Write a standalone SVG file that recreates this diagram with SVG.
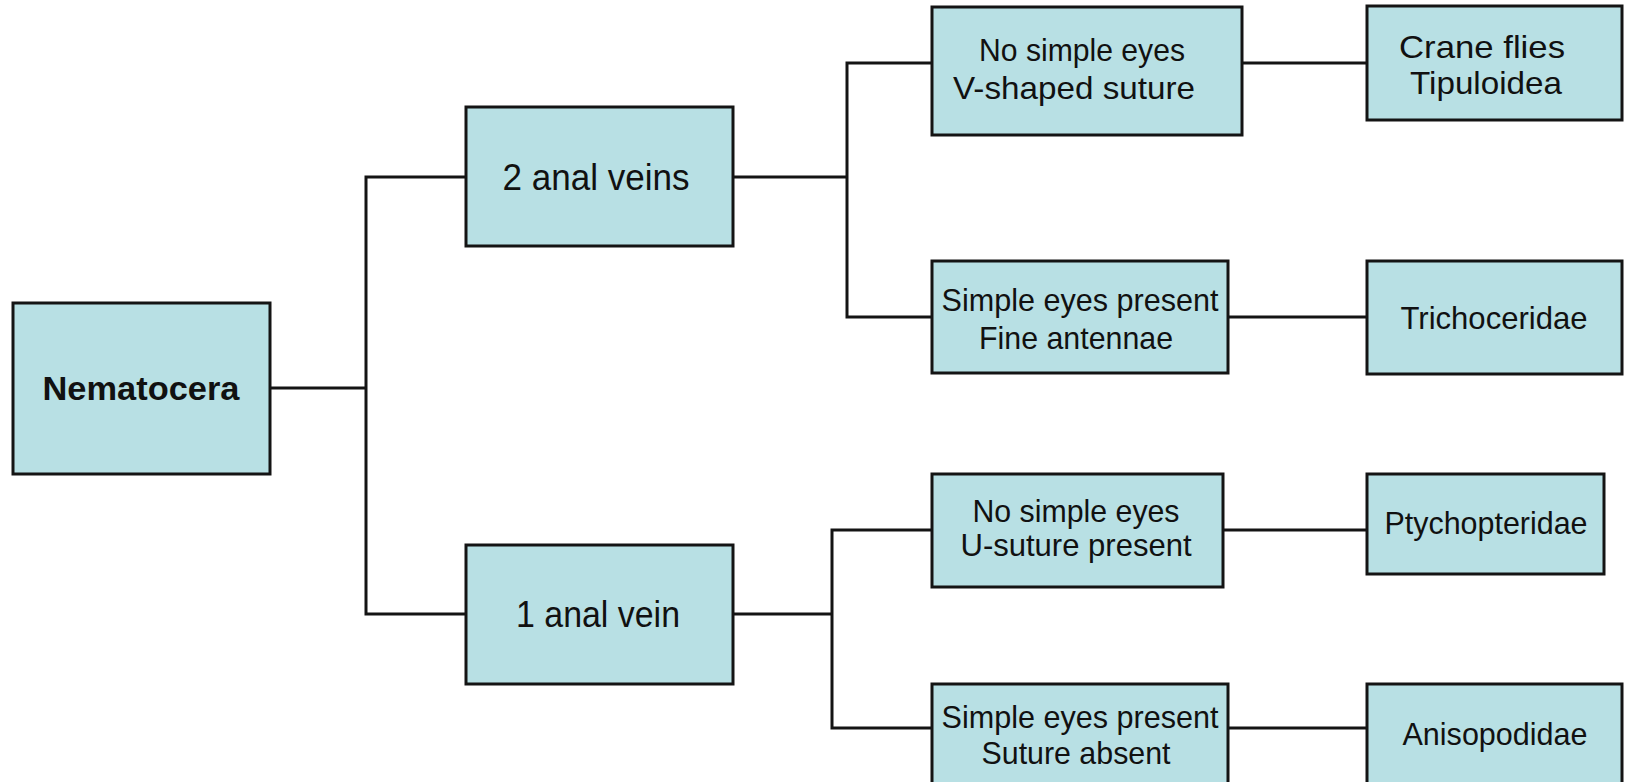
<svg xmlns="http://www.w3.org/2000/svg" width="1628" height="782" viewBox="0 0 1628 782">
<style>
.box{fill:#b8e0e4;stroke:#141414;stroke-width:3}
.t{font-family:"Liberation Sans",Arial,sans-serif;fill:#111;text-anchor:middle}
.s{font-size:32px}
.b{font-size:36px}
.bold{font-weight:bold;font-size:34px}
.con{fill:none;stroke:#141414;stroke-width:3}
</style>
<rect width="1628" height="782" fill="#fff"/>
<g id="connectors">
<path class="con" d="M270 388H366M466 177H366V614H466"/>
<path class="con" d="M733 177H847M932 63H847V317H932"/>
<path class="con" d="M733 614H832M932 530H832V728H932"/>
<path class="con" d="M1242 63H1367"/>
<path class="con" d="M1228 317H1367"/>
<path class="con" d="M1223 530H1367"/>
<path class="con" d="M1228 728H1367"/>
</g>
<g id="nematocera">
<rect class="box" x="13" y="303" width="257" height="171"/>
<text class="t bold" x="141" y="400" textLength="197" lengthAdjust="spacingAndGlyphs">Nematocera</text>
</g>
<g id="two-anal-veins">
<rect class="box" x="466" y="107" width="267" height="139"/>
<text class="t b" x="596" y="190" textLength="187" lengthAdjust="spacingAndGlyphs">2 anal veins</text>
</g>
<g id="one-anal-vein">
<rect class="box" x="466" y="545" width="267" height="139"/>
<text class="t b" x="598" y="627" textLength="164" lengthAdjust="spacingAndGlyphs">1 anal vein</text>
</g>
<g id="no-simple-eyes-v">
<rect class="box" x="932" y="7" width="310" height="128"/>
<text class="t s" x="1082" y="61" textLength="206" lengthAdjust="spacingAndGlyphs">No simple eyes</text>
<text class="t s" x="1074" y="99" textLength="242" lengthAdjust="spacingAndGlyphs">V-shaped suture</text>
</g>
<g id="simple-eyes-fine">
<rect class="box" x="932" y="261" width="296" height="112"/>
<text class="t s" x="1080" y="311" textLength="277" lengthAdjust="spacingAndGlyphs">Simple  eyes present</text>
<text class="t s" x="1076" y="349" textLength="194" lengthAdjust="spacingAndGlyphs">Fine antennae</text>
</g>
<g id="no-simple-eyes-u">
<rect class="box" x="932" y="474" width="291" height="113"/>
<text class="t s" x="1076" y="522" textLength="207" lengthAdjust="spacingAndGlyphs">No simple eyes</text>
<text class="t s" x="1076" y="556" textLength="231" lengthAdjust="spacingAndGlyphs">U-suture present</text>
</g>
<g id="simple-eyes-absent">
<rect class="box" x="932" y="684" width="296" height="104"/>
<text class="t s" x="1080" y="728" textLength="277" lengthAdjust="spacingAndGlyphs">Simple  eyes present</text>
<text class="t s" x="1076" y="764" textLength="189" lengthAdjust="spacingAndGlyphs">Suture absent</text>
</g>
<g id="craneflies">
<rect class="box" x="1367" y="6" width="255" height="114"/>
<text class="t s" x="1482" y="58" textLength="166" lengthAdjust="spacingAndGlyphs">Crane flies</text>
<text class="t s" x="1486" y="94" textLength="152" lengthAdjust="spacingAndGlyphs">Tipuloidea</text>
</g>
<g id="trichoceridae">
<rect class="box" x="1367" y="261" width="255" height="113"/>
<text class="t s" x="1494" y="329" textLength="187" lengthAdjust="spacingAndGlyphs">Trichoceridae</text>
</g>
<g id="ptychopteridae">
<rect class="box" x="1367" y="474" width="237" height="100"/>
<text class="t s" x="1486" y="534" textLength="203" lengthAdjust="spacingAndGlyphs">Ptychopteridae</text>
</g>
<g id="anisopodidae">
<rect class="box" x="1367" y="684" width="255" height="104"/>
<text class="t s" x="1495" y="745" textLength="185" lengthAdjust="spacingAndGlyphs">Anisopodidae</text>
</g>
</svg>
